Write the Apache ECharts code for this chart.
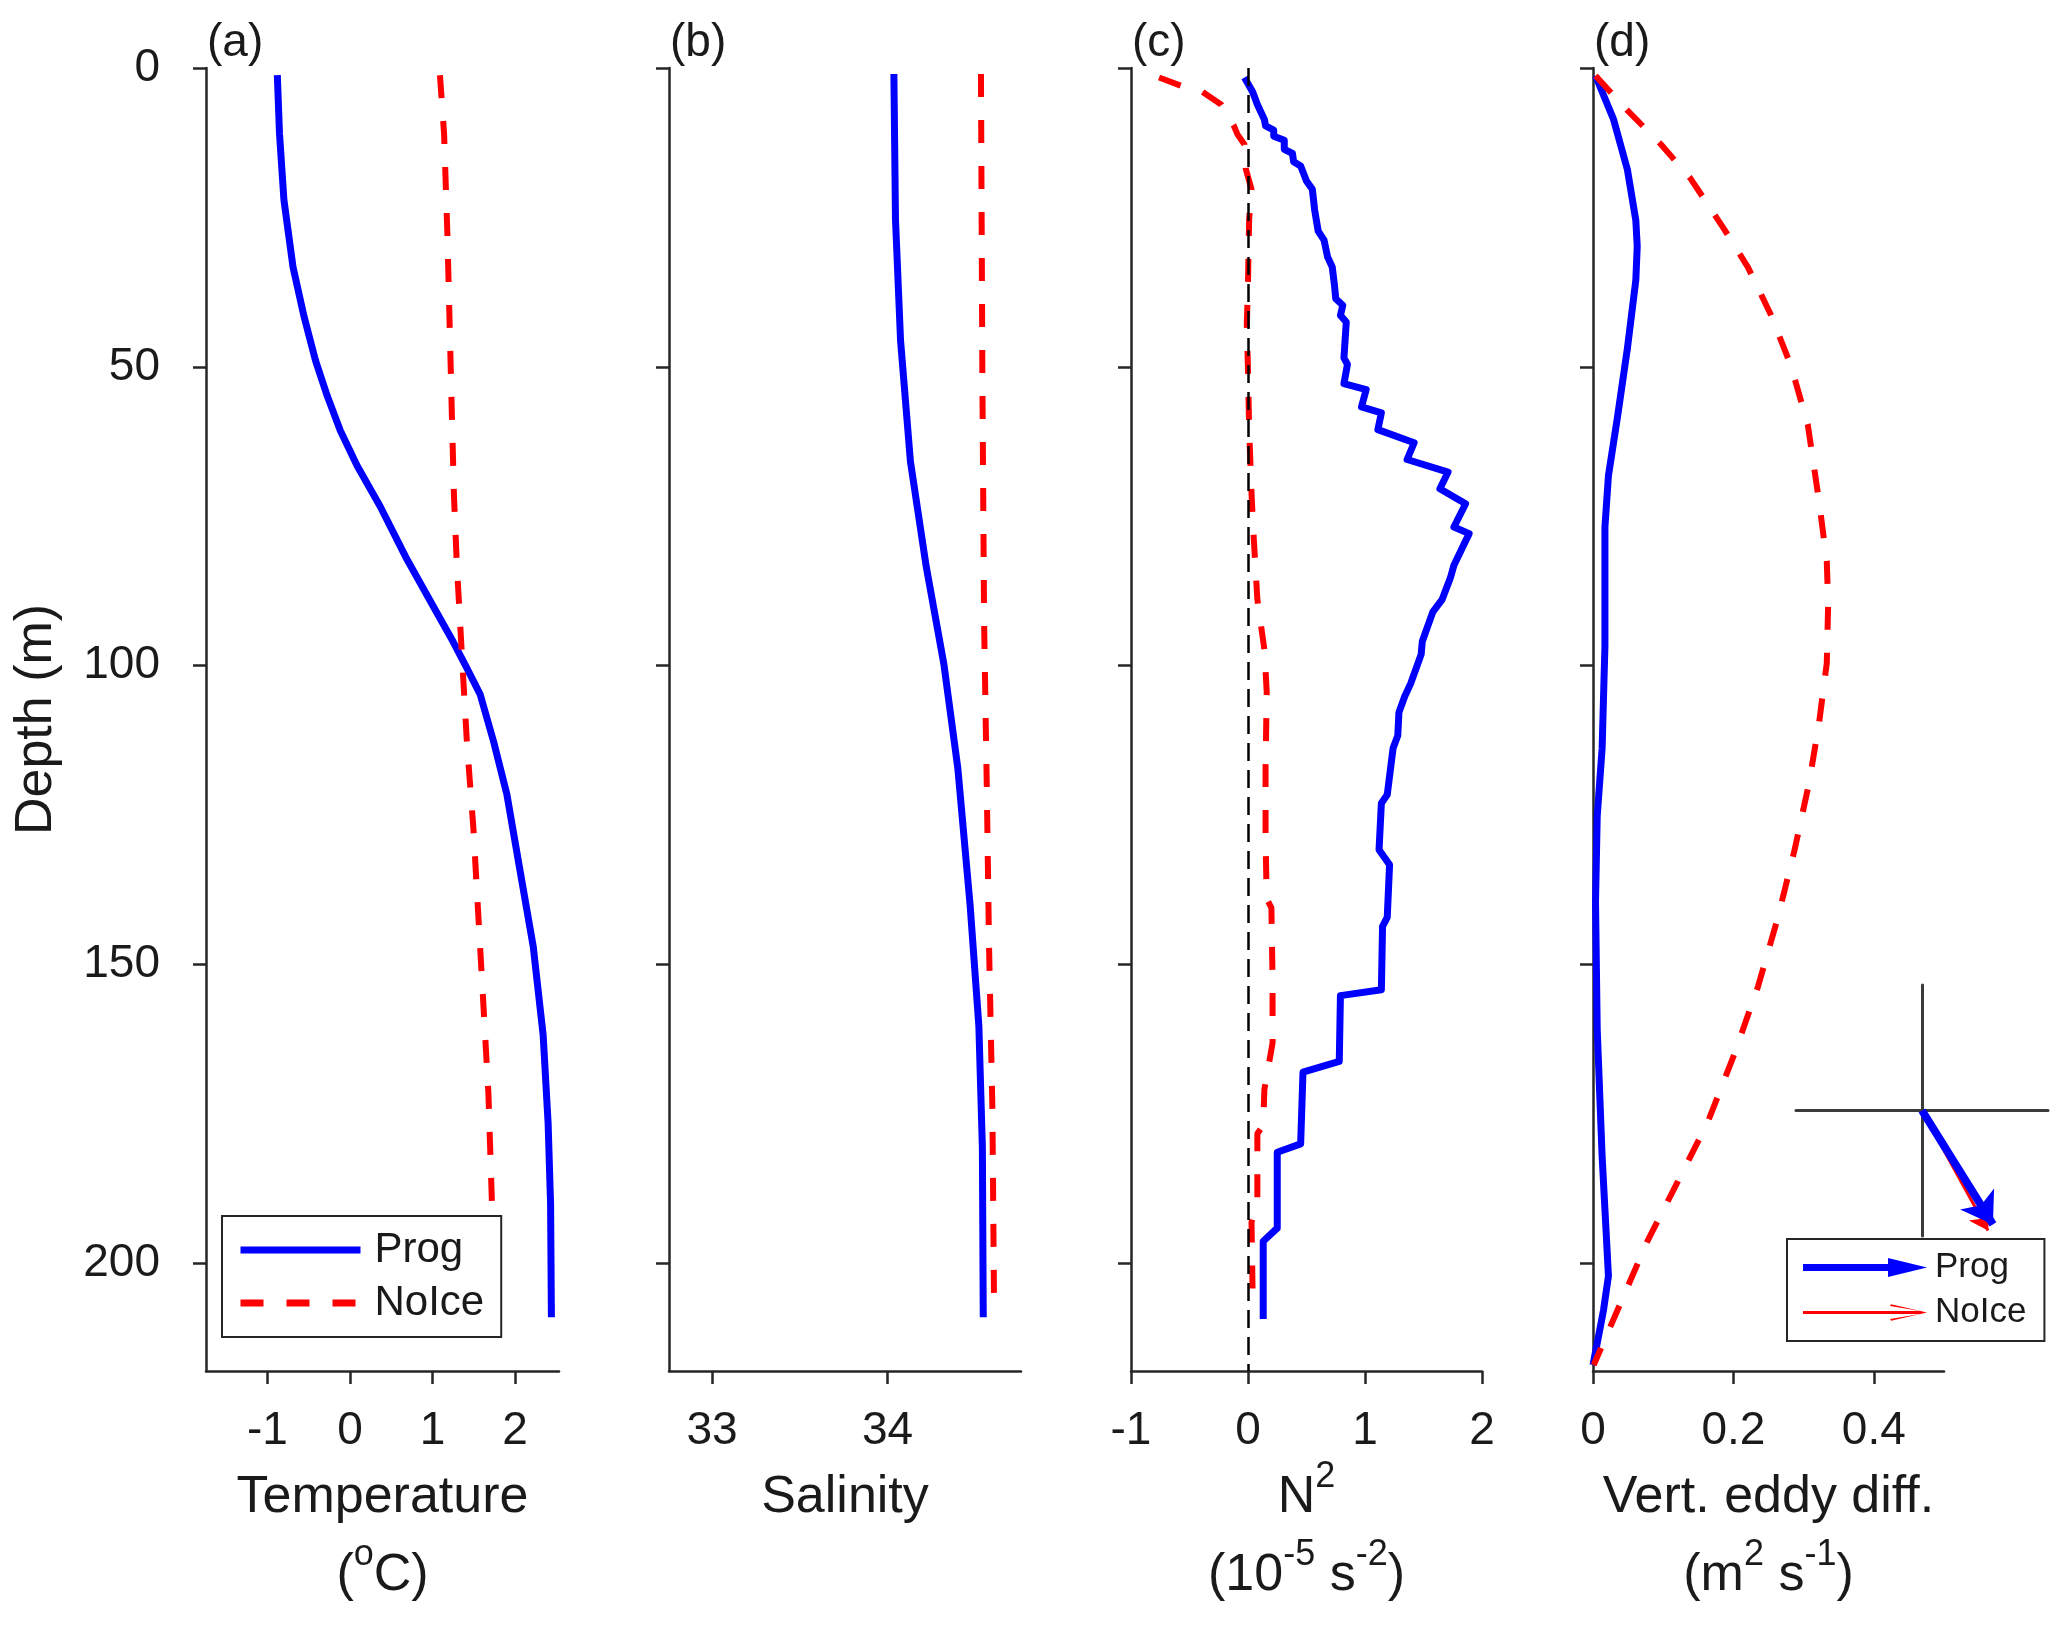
<!DOCTYPE html>
<html><head><meta charset="utf-8">
<script src="https://cdn.jsdelivr.net/npm/echarts@6/dist/echarts.min.js"></script>
<style>html,body{margin:0;padding:0;background:#fff}#chart{width:2067px;height:1635px}</style>
</head><body><div id="chart"></div>
<script>
// ---------- data ----------
const depthTicks = [0, 50, 100, 150, 200];
const tempTicks = [-1, 0, 1, 2];
const salTicks = [33, 34];
const n2Ticks = [-1, 0, 1, 2];
const kvTicks = [0, 0.2, 0.4];

const tempProgDepth = [1.2, 10.9, 22.1, 33.3, 41.6, 48.9, 54.8, 60.7, 66.5, 73.4, 82.2, 90.1, 96, 100.4, 104.8, 112.7, 121.5, 134.3, 147, 161.8, 176.5, 190, 209];
const tempProgVal = [-0.88, -0.854, -0.80, -0.69, -0.556, -0.418, -0.277, -0.116, 0.085, 0.368, 0.69, 1.01, 1.25, 1.416, 1.577, 1.74, 1.90, 2.06, 2.22, 2.34, 2.40, 2.43, 2.44];
const tempNoIceDepth = [1.2, 11, 27.8, 44.4, 58.4, 71.7, 83.2, 98, 112.7, 127.4, 142.1, 156.9, 171.6, 189.2, 206];
const tempNoIceVal = [1.09, 1.14, 1.18, 1.21, 1.235, 1.26, 1.295, 1.355, 1.416, 1.496, 1.556, 1.617, 1.677, 1.718, 1.74];

const salProgDepth = [1, 25.3, 45.6, 65.8, 83.4, 99.6, 117.1, 140, 160.3, 180.6, 209];
const salProgVal = [34.036, 34.045, 34.074, 34.13, 34.22, 34.32, 34.40, 34.47, 34.52, 34.54, 34.545];
const salNoIceDepth = [1, 52, 93, 120, 147, 174, 205];
const salNoIceVal = [34.532, 34.54, 34.55, 34.565, 34.578, 34.597, 34.606];

const n2ProgDepth = [1.6, 4.0, 6.1, 8.6, 9.7, 10.4, 11.4, 12.1, 13.6, 14.3, 15.7, 16.4, 18.9, 20.3, 23.8, 27.3, 28.8, 31.6, 33.3, 36.5, 38.6, 39.7, 41.4, 42.5, 48.5, 49.6, 52.8, 53.8, 56.7, 57.7, 60.5, 62.7, 65.5, 67.6, 70.4, 72.9, 76.8, 77.9, 83.2, 85.3, 88.9, 91, 95.9, 98.1, 103, 105.1, 107.8, 111.7, 113.8, 121.6, 123, 130.8, 133.3, 142.1, 143.6, 154.2, 155.2, 166.2, 168, 180, 181.4, 194.1, 196.3, 209.3];
const n2ProgVal = [-0.03, 0.04, 0.08, 0.14, 0.15, 0.22, 0.22, 0.31, 0.31, 0.38, 0.39, 0.45, 0.5, 0.55, 0.57, 0.6, 0.65, 0.68, 0.72, 0.74, 0.75, 0.81, 0.79, 0.84, 0.82, 0.85, 0.82, 1.01, 0.97, 1.14, 1.11, 1.42, 1.36, 1.71, 1.64, 1.86, 1.76, 1.89, 1.76, 1.73, 1.66, 1.58, 1.49, 1.48, 1.39, 1.34, 1.29, 1.28, 1.24, 1.19, 1.14, 1.12, 1.21, 1.19, 1.15, 1.14, 0.79, 0.78, 0.47, 0.45, 0.25, 0.25, 0.13, 0.13];
const n2NoIceDepth = [1.6, 3.0, 4.0, 6.1, 9.7, 11.1, 12.8, 16.8, 20.3, 25.2, 35.8, 42.9, 50.7, 60.5, 71.2, 79, 88.9, 97.3, 104.4, 117.1, 129.1, 139, 140.5, 152.5, 163.1, 170.9, 176.9, 178.3, 190, 193.1, 205.6];
const n2NoIceVal = [-0.76, -0.57, -0.39, -0.23, -0.12, -0.09, -0.03, -0.02, 0.03, 0.01, 0, -0.01, 0, 0.01, 0.03, 0.05, 0.08, 0.14, 0.16, 0.15, 0.15, 0.16, 0.2, 0.21, 0.21, 0.14, 0.13, 0.08, 0.08, 0.03, 0.04];

const kvProgDepth = [1.3, 8.5, 17, 25.5, 29.8, 35.5, 46.9, 58.3, 68.2, 76.8, 96.7, 113.8, 125.2, 139.4, 160.8, 182.1, 202.1, 207.8, 217];
const kvProgVal = [0.0036, 0.029, 0.049, 0.061, 0.063, 0.061, 0.049, 0.035, 0.022, 0.017, 0.017, 0.013, 0.006, 0.0036, 0.006, 0.013, 0.022, 0.015, 0];
const kvNoIceDepth = [1.3, 7.1, 12.8, 18.5, 27, 33.4, 41.2, 49.8, 59.7, 72.5, 82.5, 89.6, 99.6, 109.6, 119.5, 130.9, 142.3, 153.7, 165.1, 176.5, 186.5, 196.4, 207.8, 217];
const kvNoIceVal = [0.0036, 0.049, 0.097, 0.139, 0.187, 0.221, 0.253, 0.282, 0.306, 0.322, 0.333, 0.335, 0.333, 0.322, 0.308, 0.287, 0.263, 0.235, 0.201, 0.163, 0.12, 0.077, 0.035, 0.001];

// inset vectors (u, v)
const insetProg = [0.563, -0.908];
const insetNoIce = [0.524, -0.956];

// ---------- style ----------
const FONT = 'Liberation Sans';
const INK = '#1a1a1a';
const AX = '#262626';
const BLUE = '#0000ff';
const RED = '#ff0000';
const DEPTH_MAX = 218;

function pairs(vals, depths) { return vals.map((v, i) => [v, depths[i]]); }

const gridTop = 68, gridH = 1303;
const panelLeft = [206, 669, 1131, 1593];
const panelW = [353, 352, 351, 351];

const grids = panelLeft.map((l, i) => ({ left: l, top: gridTop, width: panelW[i], height: gridH }));
grids.push({ left: 1796, top: 985, width: 252, height: 251 });

const supRich = {
  sup: { fontSize: 36, lineHeight: 40, verticalAlign: 'top', fontFamily: FONT, color: INK }
};

function xAx(idx, min, max, ticks, name) {
  return {
    type: 'value', gridIndex: idx, min: min, max: max, position: 'bottom',
    axisLine: { show: true, onZero: false, lineStyle: { color: AX, width: 2.5 } },
    axisTick: { show: true, length: 13, lineStyle: { color: AX, width: 2.5 }, customValues: ticks },
    axisLabel: { show: true, customValues: ticks, margin: 37, fontSize: 46, fontFamily: FONT, color: INK },
    splitLine: { show: false },
    name: name, nameLocation: 'middle', nameGap: 87,
    nameTextStyle: { fontSize: 52, lineHeight: 78, fontFamily: FONT, color: INK, rich: supRich }
  };
}
function yAx(idx, showLabel) {
  const o = {
    type: 'value', gridIndex: idx, min: 0, max: DEPTH_MAX, inverse: true,
    axisLine: { show: true, onZero: false, lineStyle: { color: AX, width: 2.5 } },
    axisTick: { show: true, length: 13, lineStyle: { color: AX, width: 2.5 }, customValues: depthTicks },
    axisLabel: { show: showLabel, customValues: depthTicks, margin: 46, fontSize: 46, fontFamily: FONT, color: INK },
    splitLine: { show: false }
  };
  if (showLabel) {
    o.name = 'Depth (m)'; o.nameLocation = 'middle'; o.nameGap = 143; o.nameRotate = 90;
    o.nameTextStyle = { fontSize: 52, fontFamily: FONT, color: INK };
  }
  return o;
}

const xAxes = [
  xAx(0, -1.744, 2.532, tempTicks, 'Temperature\n({sup|o}C)'),
  xAx(1, 32.755, 34.76, salTicks, 'Salinity\n '),
  xAx(2, -1, 2, n2Ticks, 'N{sup|2}\n(10{sup|-5} s{sup|-2})'),
  xAx(3, 0, 0.5, kvTicks, 'Vert. eddy diff.\n(m{sup|2} s{sup|-1})'),
  { type: 'value', gridIndex: 4, min: -1, max: 1,
    axisLine: { show: true, onZero: true, lineStyle: { color: '#3a3a3a', width: 3 } },
    axisTick: { show: false }, axisLabel: { show: false }, splitLine: { show: false } }
];
const yAxes = [
  yAx(0, true), yAx(1, false), yAx(2, false), yAx(3, false),
  { type: 'value', gridIndex: 4, min: -1, max: 1,
    axisLine: { show: true, onZero: true, lineStyle: { color: '#3a3a3a', width: 3 } },
    axisTick: { show: false }, axisLabel: { show: false }, splitLine: { show: false } }
];

function prog(idx, vals, depths) {
  return { type: 'line', name: 'Prog', xAxisIndex: idx, yAxisIndex: idx, data: pairs(vals, depths),
    symbol: 'none', showSymbol: false, smooth: false, silent: true, animation: false,
    itemStyle: { color: BLUE }, lineStyle: { color: BLUE, width: 7, join: 'round' }, z: 2 };
}
function noice(idx, vals, depths) {
  return { type: 'line', name: 'NoIce', xAxisIndex: idx, yAxisIndex: idx, data: pairs(vals, depths),
    symbol: 'none', showSymbol: false, smooth: false, silent: true, animation: false,
    itemStyle: { color: RED }, lineStyle: { color: RED, width: 6, type: [23, 23], join: 'round' }, z: 3 };
}

const n2NoIceSeries = noice(2, n2NoIceVal, n2NoIceDepth);
n2NoIceSeries.markLine = {
  silent: true, symbol: ['none', 'none'], label: { show: false }, animation: false,
  lineStyle: { color: '#000', width: 2.5, type: [18, 9] },
  data: [{ xAxis: 0 }]
};

const series = [
  prog(0, tempProgVal, tempProgDepth), noice(0, tempNoIceVal, tempNoIceDepth),
  prog(1, salProgVal, salProgDepth), noice(1, salNoIceVal, salNoIceDepth),
  prog(2, n2ProgVal, n2ProgDepth), n2NoIceSeries,
  prog(3, kvProgVal, kvProgDepth), noice(3, kvNoIceVal, kvNoIceDepth),
  { type: 'lines', name: 'NoIce', coordinateSystem: 'cartesian2d', xAxisIndex: 4, yAxisIndex: 4,
    symbol: ['none', 'arrow'], symbolSize: [0, 18], silent: true, animation: false,
    itemStyle: { color: RED }, lineStyle: { color: RED, width: 3, opacity: 1, curveness: 0 },
    data: [{ coords: [[0, 0], insetNoIce] }], z: 3 },
  { type: 'lines', name: 'Prog', coordinateSystem: 'cartesian2d', xAxisIndex: 4, yAxisIndex: 4,
    symbol: ['none', 'arrow'], symbolSize: [0, 30], silent: true, animation: false,
    itemStyle: { color: BLUE }, lineStyle: { color: BLUE, width: 8, opacity: 1, curveness: 0 },
    data: [{ coords: [[0, 0], insetProg] }], z: 4 }
];

const BLUE_ARROW = 'path://M0 6.5L85 6.5L85 0.5L124 10L85 19.5L85 13.5L0 13.5Z';
const RED_ARROW = 'path://M0 8.5L117 8.5L87 3.5L88 1.8L124 10L88 18.2L87 16.5L117 11.5L0 11.5Z';

const labels = ['(a)', '(b)', '(c)', '(d)'];
const titles = labels.map((t, i) => ({
  text: t, left: panelLeft[i] + 1, top: 20, padding: 0,
  textStyle: { fontSize: 46, fontWeight: 'normal', fontFamily: FONT, color: INK }
}));

const option = {
  backgroundColor: '#fff',
  animation: false,
  title: titles,
  grid: grids,
  xAxis: xAxes,
  yAxis: yAxes,
  legend: [
    { data: ['Prog', 'NoIce'], orient: 'vertical', left: 222, top: 1216,
      itemWidth: 120, itemHeight: 14, itemGap: 11, padding: [13, 17, 13, 15],
      backgroundColor: '#fff', borderColor: AX, borderWidth: 2, borderRadius: 0,
      selectedMode: false, lineStyle: { width: 7 }, itemStyle: { opacity: 0, borderWidth: 0 },
      textStyle: { fontSize: 42, fontFamily: FONT, color: INK, padding: [0, 0, 0, 9] } },
    { data: [{ name: 'Prog', icon: BLUE_ARROW }, { name: 'NoIce', icon: RED_ARROW }],
      orient: 'vertical', left: 1787, top: 1239,
      itemWidth: 124, itemHeight: 20, itemGap: 10, padding: [11, 18, 11, 16],
      backgroundColor: '#fff', borderColor: AX, borderWidth: 2, borderRadius: 0,
      selectedMode: false, itemStyle: { borderWidth: 0 },
      textStyle: { fontSize: 35, fontFamily: FONT, color: INK, padding: [0, 0, 0, 3] } }
  ],
  series: series
};

const chart = echarts.init(document.getElementById('chart'), null, { renderer: 'canvas' });
chart.setOption(option);
</script>
</body></html>
